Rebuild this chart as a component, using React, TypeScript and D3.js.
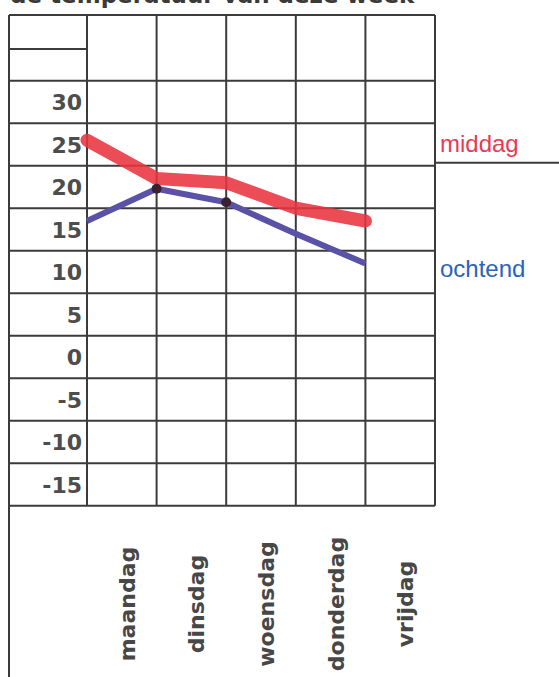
import React, { useEffect, useRef } from "react";
import * as d3 from "d3";

const days = ["maandag", "dinsdag", "woensdag", "donderdag", "vrijdag"];
const yTicks = [30, 25, 20, 15, 10, 5, 0, -5, -10, -15];
const middag = [25.5, 21, 20.5, 17.5, 16];
const ochtend = [16, 19.8, 18.2, 14.5, 11];
const title = "de temperatuur van deze week";

export default function App() {
    const ref = useRef<SVGSVGElement>(null);

    useEffect(() => {
        const svg = d3.select(ref.current);
        svg.selectAll("*").remove();

        const left = 9;
        const labelRight = 87;
        const right = 435;
        const top = 15;

        const x = d3.scaleBand().domain(days).range([labelRight, right]).padding(0);
        const y = d3.scaleLinear().domain([-15, 30]).range([484.5, 102]);
        const bottom = y(-17.5);

        const gridColor = "#3b3b3b";
        const g = svg.append("g").attr("stroke", gridColor).attr("stroke-width", 2).attr("fill", "none");

        // title, mostly cut off by the top edge (as in the scan)
        svg.append("text")
            .attr("x", 10)
            .attr("y", 3)
            .attr("font-family", "DejaVu Sans")
            .attr("font-weight", "bold")
            .attr("font-size", 23)
            .attr("fill", "#3a3a3a")
            .text(title);

        // horizontal lines
        g.append("line").attr("x1", left).attr("x2", right).attr("y1", top).attr("y2", top);
        g.append("line").attr("x1", left).attr("x2", labelRight).attr("y1", 49).attr("y2", 49);
        const rowLines = yTicks.map((t) => t + 2.5).concat([-17.5]);
        g.selectAll("line.row")
            .data(rowLines)
            .enter()
            .append("line")
            .attr("class", "row")
            .attr("x1", left)
            .attr("x2", right)
            .attr("y1", (d) => y(d))
            .attr("y2", (d) => y(d));

        // vertical lines
        g.append("line").attr("x1", left).attr("x2", left).attr("y1", top).attr("y2", 677);
        const cols = days.map((d) => x(d) as number).concat([right]);
        g.selectAll("line.col")
            .data(cols)
            .enter()
            .append("line")
            .attr("class", "col")
            .attr("x1", (d) => d)
            .attr("x2", (d) => d)
            .attr("y1", top)
            .attr("y2", bottom);

        // legend divider
        g.append("line").attr("x1", right).attr("x2", 559).attr("y1", y(22.5) - 3).attr("y2", y(22.5) - 3);

        // y labels
        svg.append("g")
            .selectAll("text")
            .data(yTicks)
            .enter()
            .append("text")
            .attr("x", labelRight - 5)
            .attr("y", (d) => y(d))
            .attr("dy", "0.37em")
            .attr("text-anchor", "end")
            .attr("font-family", "DejaVu Sans")
            .attr("font-weight", "bold")
            .attr("font-size", 22)
            .attr("fill", "#4d4d4d")
            .text((d) => String(d));

        // day labels
        svg.append("g")
            .selectAll("text")
            .data(days)
            .enter()
            .append("text")
            .attr("transform", (d) => `translate(${(x(d) as number) + x.bandwidth() / 2 + 13},604) rotate(-90)`)
            .attr("text-anchor", "middle")
            .attr("font-family", "DejaVu Sans")
            .attr("font-weight", "bold")
            .attr("font-size", 22)
            .attr("fill", "#474747")
            .text((d) => d);

        const line = d3
            .line<number>()
            .x((d, i) => x(days[i]) as number)
            .y((d) => y(d));

        svg.append("path")
            .datum(middag)
            .attr("d", line)
            .attr("fill", "none")
            .attr("stroke", "#e9333f")
            .attr("stroke-opacity", 0.88)
            .attr("stroke-width", 13)
            .attr("stroke-linecap", "round")
            .attr("stroke-linejoin", "round");

        svg.append("path")
            .datum(ochtend)
            .attr("d", line)
            .attr("fill", "none")
            .attr("stroke", "#5a52a6")
            .attr("stroke-width", 6)
            .attr("stroke-linecap", "butt")
            .attr("stroke-linejoin", "round");

        svg.append("g")
            .selectAll("circle")
            .data(ochtend.slice(1, 3))
            .enter()
            .append("circle")
            .attr("cx", (d, i) => x(days[i + 1]) as number)
            .attr("cy", (d) => y(d))
            .attr("r", 5)
            .attr("fill", "#3a2030");

        // legend
        svg.append("text")
            .attr("x", 440)
            .attr("y", 152)
            .attr("font-family", "Liberation Sans")
            .attr("font-size", 24)
            .attr("fill", "#e83a55")
            .text("middag");
        svg.append("text")
            .attr("x", 440)
            .attr("y", 277)
            .attr("font-family", "Liberation Sans")
            .attr("font-size", 24)
            .attr("fill", "#2a63c0")
            .text("ochtend");
    }, []);

    return (
        <div className="container">
            <svg ref={ref} width="559" height="677" style={{ position: "absolute", left: 0, top: 0, background: "#fff" }}></svg>
        </div>
    );
}
